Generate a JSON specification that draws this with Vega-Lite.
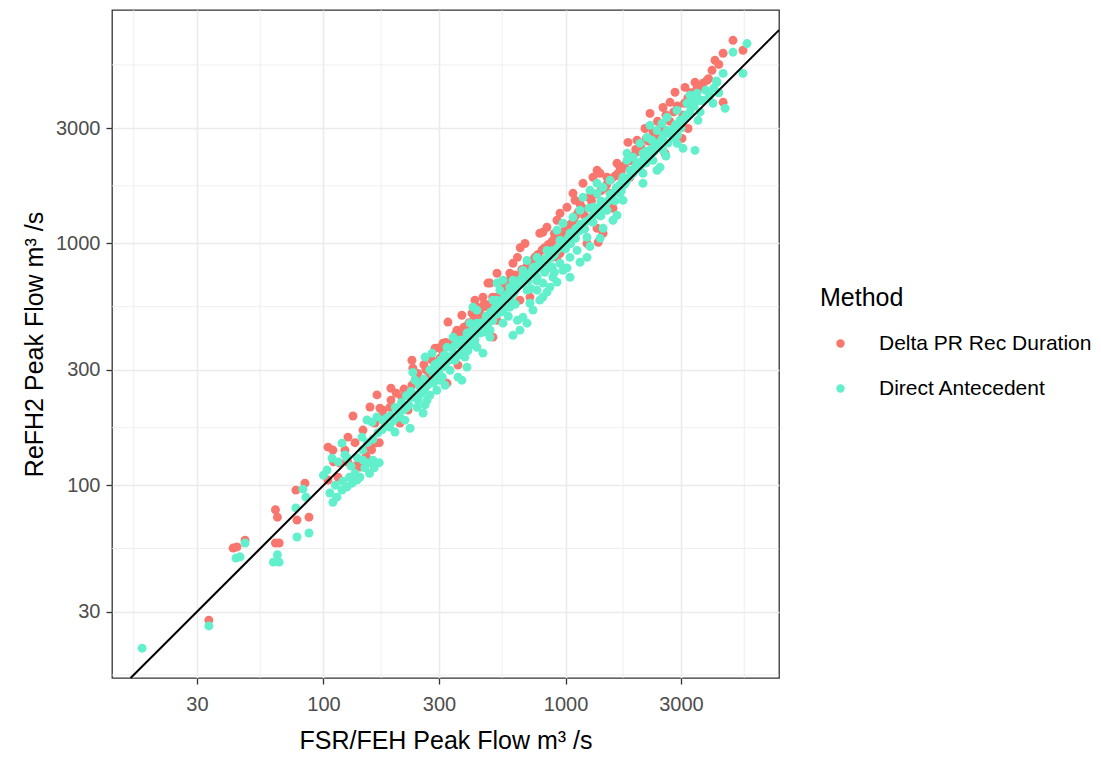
{
  "$schema": "https://vega.github.io/schema/vega-lite/v6.json",
  "width": 667,
  "height": 668,
  "autosize": {"type": "none"},
  "padding": {"left": 112, "top": 10, "right": 322, "bottom": 80},
  "background": "white",
  "config": {
    "font": "Liberation Sans",
    "view": {"stroke": "#333333", "strokeWidth": 1.3},
    "axis": {
      "domain": false, "grid": true, "gridColor": "#EBEBEB", "gridWidth": 1.6,
      "tickColor": "#333333", "tickWidth": 1.3, "tickSize": 6,
      "labelFont": "Liberation Sans", "labelFontSize": 20, "labelColor": "#4D4D4D", "labelPadding": 6,
      "titleFont": "Liberation Sans", "titleFontSize": 25, "titleFontWeight": "normal", "titleColor": "#000000"
    },
    "legend": {
      "orient": "none", "legendX": 708, "legendY": 276, "padding": 0,
      "titleFont": "Liberation Sans", "titleFontSize": 25, "titleFontWeight": "normal", "titleColor": "#000000", "titlePadding": 22,
      "labelFont": "Liberation Sans", "labelFontSize": 21, "labelColor": "#000000", "labelLimit": 400,
      "symbolType": "circle", "symbolSize": 70, "symbolStrokeWidth": 0, "symbolOffset": 10, "labelOffset": 28, "rowPadding": 23
    }
  },
  "datasets": {
    "delta": [
      {"x":33.6,"y":27.7},{"x":42.3,"y":55},{"x":43.9,"y":55.6},{"x":47.4,"y":59.3},{"x":63.3,"y":79.2},{"x":64.5,"y":73.8},{"x":63.3,"y":57.7},{"x":65.6,"y":57.7},
      {"x":77.7,"y":71.8},{"x":76.9,"y":95.5},{"x":83.8,"y":102},{"x":87.1,"y":73.8},{"x":104.4,"y":143.8},{"x":109.4,"y":139.8},{"x":104.4,"y":105.1},{"x":114.7,"y":108.1},
      {"x":117,"y":123.5},{"x":126.2,"y":124.6},{"x":122.6,"y":139.8},{"x":126.2,"y":158.2},{"x":132.4,"y":193.4},{"x":137.5,"y":121.2},{"x":141.5,"y":118.9},{"x":155.6,"y":210.7},
      {"x":166.3,"y":236.5},{"x":163.2,"y":180.9},{"x":151.2,"y":143.8},{"x":145.6,"y":169.2},{"x":163.2,"y":149.4},{"x":190,"y":252},{"x":171,"y":208.5},{"x":188,"y":210},
      {"x":211,"y":231},{"x":223.5,"y":204.5},{"x":232,"y":329},{"x":234,"y":305},{"x":232,"y":259},{"x":255,"y":255},{"x":289,"y":369},{"x":303,"y":335.5},
      {"x":311.7,"y":387},{"x":326.8,"y":473},{"x":356,"y":438},{"x":359.5,"y":314},{"x":373,"y":505},{"x":410.7,"y":515},{"x":422.6,"y":583},{"x":456,"y":545},
      {"x":478,"y":686},{"x":521,"y":753},{"x":501.5,"y":410},{"x":323.7,"y":264.5},{"x":176,"y":204.5},{"x":207,"y":181},{"x":258,"y":272},{"x":275.5,"y":285},
      {"x":340,"y":335.5},{"x":435,"y":491},{"x":1350,"y":2007},{"x":1299,"y":1878},{"x":1632,"y":2145},{"x":1527,"y":1612},{"x":1571,"y":1398},{"x":1181,"y":1773},
      {"x":1074,"y":1612},{"x":1014,"y":1411},{"x":949,"y":1333},{"x":922,"y":1247},{"x":838,"y":1167},{"x":806,"y":1112},{"x":1350,"y":1156},{"x":1429,"y":1102},
      {"x":1227,"y":1000},{"x":1365,"y":1012},{"x":862,"y":963},{"x":783,"y":1102},{"x":680,"y":1000},{"x":949,"y":910},{"x":633,"y":876},{"x":606.5,"y":828},
      {"x":589,"y":753},{"x":487.5,"y":686},{"x":713,"y":600},{"x":648,"y":583},{"x":456,"y":600},{"x":430.7,"y":545},{"x":521,"y":481},{"x":487.5,"y":540},
      {"x":922,"y":876},{"x":1095,"y":1509},{"x":1389,"y":1308},{"x":650,"y":960},{"x":4920,"y":6920},{"x":4480,"y":6120},{"x":5410,"y":6290},{"x":4146,"y":5720},
      {"x":4030,"y":5200},{"x":3843,"y":4730},{"x":3428,"y":4640},{"x":3117,"y":4420},{"x":3494,"y":4380},{"x":2835,"y":4220},{"x":2703,"y":3835},{"x":4480,"y":3835},
      {"x":2529,"y":3650},{"x":2234,"y":3450},{"x":3059,"y":3390},{"x":3208,"y":2988},{"x":2130,"y":2988},{"x":3030,"y":2720},{"x":1974,"y":2670},{"x":1812,"y":2619},
      {"x":2577,"y":2359},{"x":1679,"y":2065},{"x":1727,"y":1825},{"x":1847,"y":1878},{"x":1389,"y":1950},{"x":1484,"y":1878},{"x":1527,"y":1411},
      {"x":150,"y":132},{"x":158,"y":140},{"x":170,"y":150},{"x":200,"y":240},{"x":245,"y":290},{"x":265,"y":300},{"x":300,"y":370},{"x":320,"y":390},
      {"x":345,"y":400},{"x":380,"y":450},{"x":400,"y":470},{"x":460,"y":560},{"x":500,"y":600},{"x":560,"y":690},{"x":600,"y":720},{"x":560,"y":650},
      {"x":700,"y":820},{"x":750,"y":880},{"x":820,"y":960},{"x":880,"y":1020},{"x":1000,"y":1150},{"x":1050,"y":1200},{"x":950,"y":1060},{"x":900,"y":1100},
      {"x":1150,"y":1450},{"x":1250,"y":1550},{"x":1450,"y":1700},{"x":1600,"y":1900},{"x":1700,"y":2000},{"x":1900,"y":2300},{"x":1950,"y":2450},{"x":1200,"y":1300},
      {"x":1100,"y":1300},{"x":2300,"y":2900},{"x":2400,"y":3200},{"x":2600,"y":3400},{"x":2900,"y":3700},{"x":3300,"y":4200},{"x":3700,"y":4600},{"x":4300,"y":5500},
      {"x":2000,"y":2400},{"x":2200,"y":2650},
      {"x":110,"y":125},{"x":135,"y":150},{"x":175,"y":195},{"x":190,"y":225},{"x":215,"y":250},{"x":240,"y":275},{"x":260,"y":315},{"x":280,"y":330},
      {"x":310,"y":360},{"x":330,"y":380},{"x":350,"y":420},{"x":370,"y":430},{"x":390,"y":455},{"x":420,"y":490},{"x":440,"y":520},{"x":480,"y":560},
      {"x":520,"y":600},{"x":540,"y":640},{"x":580,"y":700},{"x":620,"y":740},{"x":660,"y":780},{"x":690,"y":800},{"x":730,"y":850},{"x":770,"y":900},
      {"x":800,"y":940},{"x":850,"y":990},{"x":900,"y":1050},{"x":970,"y":1100},{"x":1020,"y":1180},{"x":1080,"y":1250},{"x":1130,"y":1350},{"x":1180,"y":1400},
      {"x":1280,"y":1500},{"x":1330,"y":1600},{"x":1400,"y":1650},{"x":1480,"y":1750},{"x":1550,"y":1850},{"x":1650,"y":1950},{"x":1750,"y":2100},{"x":1850,"y":2200},
      {"x":2050,"y":2500},{"x":2150,"y":2700},{"x":2350,"y":2800},{"x":2500,"y":3000},{"x":2700,"y":3200},{"x":2800,"y":3500},{"x":3100,"y":3800},{"x":3200,"y":4000},
      {"x":3600,"y":4400},{"x":3900,"y":4800}
    ],
    "direct": [
      {"x":17.8,"y":21.2},{"x":33.6,"y":26.2},{"x":47.4,"y":57.7},{"x":43.5,"y":50},{"x":45.2,"y":50.6},{"x":62.1,"y":48.1},{"x":64.5,"y":51.6},{"x":65.6,"y":48.1},
      {"x":77.7,"y":61.1},{"x":76.9,"y":80.6},{"x":82.2,"y":96.4},{"x":84.6,"y":89.3},{"x":87.1,"y":63.5},{"x":108.4,"y":129.4},{"x":103.4,"y":115.6},{"x":106.3,"y":92.9},
      {"x":109.4,"y":85},{"x":113.6,"y":89.3},{"x":119.2,"y":95.5},{"x":125,"y":98.3},{"x":131.2,"y":102},{"x":137.5,"y":105.1},{"x":141.5,"y":108.1},{"x":119.2,"y":149.4},
      {"x":122.6,"y":133.6},{"x":145.6,"y":127.1},{"x":151.2,"y":123.5},{"x":158.6,"y":123.5},{"x":160.1,"y":127.1},{"x":151.2,"y":186.2},{"x":158.6,"y":182.6},{"x":166.3,"y":191.6},
      {"x":144.2,"y":158.2},{"x":221,"y":210},{"x":207,"y":191},{"x":232,"y":231},{"x":243.5,"y":210},{"x":258,"y":199},{"x":268,"y":225},{"x":250.5,"y":255},
      {"x":234,"y":293},{"x":239,"y":272},{"x":263,"y":339},{"x":281,"y":352},{"x":283.5,"y":290.5},{"x":303,"y":272},{"x":311.7,"y":308},{"x":294,"y":247},
      {"x":323.7,"y":372},{"x":343,"y":410},{"x":366,"y":398},{"x":359.5,"y":280},{"x":373,"y":272},{"x":391.6,"y":308},{"x":377,"y":362},{"x":391.6,"y":426},
      {"x":403,"y":468},{"x":430.7,"y":372},{"x":443,"y":426},{"x":456,"y":352},{"x":414.6,"y":545},{"x":474,"y":495},{"x":521,"y":686},{"x":501.5,"y":583},
      {"x":487.5,"y":410},{"x":176,"y":186},{"x":188,"y":174},{"x":197.5,"y":166},{"x":217,"y":186},{"x":228,"y":172},{"x":246,"y":225},{"x":263,"y":215},
      {"x":275.5,"y":236},{"x":294,"y":277},{"x":318,"y":259},{"x":333.5,"y":299},{"x":349,"y":329},{"x":384,"y":339},{"x":403,"y":380},{"x":422.6,"y":398},
      {"x":414.6,"y":438},{"x":465,"y":460},{"x":487.5,"y":491},{"x":1350,"y":1773},{"x":1527,"y":1825},{"x":1727,"y":1878},{"x":1795,"y":2359},{"x":1679,"y":1612},
      {"x":1571,"y":1247},{"x":1727,"y":1509},{"x":1181,"y":1552},{"x":1262,"y":1659},{"x":1148,"y":1372},{"x":1074,"y":1283},{"x":976,"y":1212},{"x":922,"y":1134},
      {"x":1044,"y":1102},{"x":1148,"y":1134},{"x":1227,"y":1061},{"x":1389,"y":1051},{"x":1116,"y":936},{"x":1227,"y":876},{"x":1044,"y":876},{"x":949,"y":1031},
      {"x":887,"y":936},{"x":838,"y":936},{"x":762,"y":876},{"x":806,"y":828},{"x":949,"y":828},{"x":976,"y":774},{"x":887,"y":725},{"x":862,"y":796},
      {"x":693,"y":851},{"x":734,"y":796},{"x":667,"y":774},{"x":606.5,"y":705},{"x":589,"y":660},{"x":536,"y":641},{"x":551.5,"y":705},{"x":762,"y":725},
      {"x":806,"y":686},{"x":862,"y":660},{"x":762,"y":641},{"x":806,"y":600},{"x":693,"y":641},{"x":713,"y":566},{"x":589,"y":545},{"x":551.5,"y":530},
      {"x":521,"y":583},{"x":430.7,"y":530},{"x":430.7,"y":468},{"x":487.5,"y":438},{"x":551.5,"y":468},{"x":633,"y":481},{"x":667,"y":495},{"x":693,"y":468},
      {"x":1044,"y":725},{"x":1148,"y":836},{"x":648,"y":438},{"x":606.5,"y":417},{"x":783,"y":583},{"x":734,"y":530},{"x":838,"y":629},{"x":922,"y":692},
      {"x":1014,"y":792},{"x":1262,"y":972},{"x":1429,"y":1156},{"x":1299,"y":1224},{"x":1484,"y":1372},{"x":1632,"y":1308},{"x":4920,"y":6180},{"x":5622,"y":6710},
      {"x":5410,"y":5050},{"x":4480,"y":5050},{"x":4226,"y":4640},{"x":3268,"y":4100},{"x":3494,"y":4180},{"x":3177,"y":3800},{"x":3363,"y":3910},{"x":3700,"y":3910},
      {"x":3953,"y":4100},{"x":4566,"y":3620},{"x":4068,"y":3800},{"x":2889,"y":3550},{"x":2627,"y":3325},{"x":2505,"y":3140},{"x":2972,"y":3230},{"x":3268,"y":3450},
      {"x":3527,"y":3230},{"x":2234,"y":3080},{"x":2388,"y":2930},{"x":2627,"y":2930},{"x":2780,"y":2745},{"x":2889,"y":2594},{"x":3059,"y":2474},{"x":2031,"y":2594},
      {"x":2171,"y":2745},{"x":2277,"y":2670},{"x":2388,"y":2497},{"x":2529,"y":2427},{"x":2090,"y":2359},{"x":1900,"y":2271},{"x":1795,"y":2207},{"x":1847,"y":2007},
      {"x":2031,"y":2065},{"x":2298,"y":2207},{"x":2388,"y":2007},{"x":2457,"y":2065},{"x":2090,"y":1950},{"x":2090,"y":1773},{"x":1429,"y":1707},{"x":1632,"y":1659},
      {"x":1350,"y":1612},{"x":1299,"y":1411},{"x":3428,"y":2427},
      {"x":112,"y":100},{"x":128,"y":108},{"x":135,"y":112},{"x":148,"y":118},{"x":155,"y":112},{"x":162,"y":118},{"x":170,"y":124},{"x":120,"y":104},
      {"x":180,"y":178},{"x":195,"y":185},{"x":205,"y":200},{"x":215,"y":205},{"x":225,"y":215},{"x":240,"y":235},{"x":255,"y":240},{"x":262,"y":250},
      {"x":270,"y":260},{"x":285,"y":265},{"x":300,"y":290},{"x":310,"y":280},{"x":290,"y":300},{"x":320,"y":320},{"x":335,"y":330},{"x":345,"y":350},
      {"x":360,"y":345},{"x":375,"y":375},{"x":395,"y":360},{"x":410,"y":390},{"x":420,"y":420},{"x":440,"y":440},{"x":460,"y":430},{"x":480,"y":470},
      {"x":500,"y":480},{"x":520,"y":510},{"x":540,"y":520},{"x":560,"y":540},{"x":560,"y":600},{"x":580,"y":620},{"x":620,"y":640},{"x":640,"y":700},
      {"x":660,"y":720},{"x":700,"y":700},{"x":720,"y":760},{"x":750,"y":800},{"x":780,"y":820},{"x":820,"y":860},{"x":850,"y":880},{"x":900,"y":900},
      {"x":930,"y":960},{"x":960,"y":980},{"x":1000,"y":1000},{"x":1000,"y":950},{"x":880,"y":800},{"x":720,"y":650},{"x":620,"y":560},{"x":580,"y":500},
      {"x":900,"y":760},{"x":1050,"y":1000},{"x":1100,"y":1050},{"x":1150,"y":1200},{"x":1200,"y":1150},{"x":1250,"y":1250},{"x":1300,"y":1300},{"x":1350,"y":1350},
      {"x":1400,"y":1300},{"x":1450,"y":1450},{"x":1500,"y":1500},{"x":1550,"y":1550},{"x":1600,"y":1500},{"x":1650,"y":1700},{"x":1700,"y":1650},{"x":1750,"y":1750},
      {"x":1800,"y":1850},{"x":1900,"y":1950},{"x":1950,"y":2100},{"x":1250,"y":1400},{"x":1100,"y":1150},{"x":1400,"y":1500},{"x":2200,"y":2300},{"x":2350,"y":2600},
      {"x":2500,"y":2700},{"x":2650,"y":2600},{"x":2800,"y":3000},{"x":3000,"y":3000},{"x":3100,"y":3300},{"x":3300,"y":3600},{"x":3600,"y":3500},{"x":3800,"y":4300},
      {"x":4100,"y":4400},{"x":4300,"y":4200},{"x":2150,"y":2150},{"x":2600,"y":2300},{"x":2900,"y":2800},
      {"x":100,"y":110},{"x":115,"y":125},{"x":125,"y":130},{"x":130,"y":120},{"x":138,"y":130},{"x":145,"y":140},{"x":152,"y":150},{"x":160,"y":155},
      {"x":168,"y":165},{"x":175,"y":170},{"x":182,"y":190},{"x":190,"y":195},{"x":198,"y":210},{"x":210,"y":220},{"x":220,"y":235},{"x":230,"y":245},
      {"x":248,"y":260},{"x":260,"y":275},{"x":275,"y":300},{"x":288,"y":315},{"x":295,"y":320},{"x":305,"y":330},{"x":315,"y":345},{"x":325,"y":340},
      {"x":340,"y":370},{"x":350,"y":380},{"x":365,"y":390},{"x":380,"y":400},{"x":390,"y":410},{"x":405,"y":430},{"x":430,"y":450},{"x":450,"y":470},
      {"x":470,"y":500},{"x":490,"y":520},{"x":510,"y":540},{"x":530,"y":560},{"x":550,"y":580},{"x":570,"y":600},{"x":590,"y":610},{"x":610,"y":620},
      {"x":630,"y":660},{"x":650,"y":680},{"x":670,"y":690},{"x":690,"y":720},{"x":710,"y":740},{"x":730,"y":760},{"x":760,"y":780},{"x":790,"y":800},
      {"x":810,"y":830},{"x":840,"y":850},{"x":870,"y":870},{"x":890,"y":920},{"x":920,"y":940},{"x":950,"y":960},{"x":980,"y":1000},{"x":1010,"y":1030},
      {"x":1030,"y":1060},{"x":760,"y":700},{"x":820,"y":760},{"x":600,"y":580},{"x":1070,"y":1060},{"x":1120,"y":1120},{"x":1170,"y":1180},{"x":1210,"y":1230},
      {"x":1280,"y":1280},{"x":1330,"y":1380},{"x":1380,"y":1420},{"x":1430,"y":1400},{"x":1480,"y":1480},{"x":1530,"y":1600},{"x":1580,"y":1620},{"x":1620,"y":1700},
      {"x":1680,"y":1750},{"x":1720,"y":1800},{"x":1780,"y":1800},{"x":1850,"y":1900},{"x":1920,"y":2000},{"x":2000,"y":2150},{"x":2080,"y":2200},{"x":2150,"y":2400},
      {"x":2250,"y":2450},{"x":2320,"y":2400},{"x":2420,"y":2600},{"x":2550,"y":2800},{"x":2700,"y":2850},{"x":2850,"y":3100},{"x":3000,"y":3200},{"x":3150,"y":3400},
      {"x":3400,"y":3700},{"x":3600,"y":3900},{"x":3900,"y":4000},{"x":4200,"y":4700}
    ],
    "minor": [{"v":16.43},{"v":54.77},{"v":173.2},{"v":547.7},{"v":1732},{"v":5477}]
  },
  "layer": [
    {
      "data": {"name": "minor"},
      "mark": {"type": "rule", "color": "#EBEBEB", "strokeWidth": 0.8},
      "encoding": {
        "x": {"field": "v", "type": "quantitative",
              "scale": {"type": "log", "domain": [13.37, 7623], "nice": false, "zero": false},
              "axis": {"values": [30, 100, 300, 1000, 3000], "format": "d", "title": "FSR/FEH Peak Flow m³ /s", "titleX": 333.5, "titleY": 70, "titleAlign": "center", "titleBaseline": "alphabetic", "labelPadding": 10}}
      }
    },
    {
      "data": {"name": "minor"},
      "mark": {"type": "rule", "color": "#EBEBEB", "strokeWidth": 0.8},
      "encoding": {
        "y": {"field": "v", "type": "quantitative",
              "scale": {"type": "log", "domain": [15.96, 9236], "nice": false, "zero": false},
              "axis": {"values": [30, 100, 300, 1000, 3000], "format": "d", "title": "ReFH2 Peak Flow m³ /s", "titleX": -70, "titleY": 334, "titleAlign": "center", "titleBaseline": "alphabetic", "titleAngle": 270}}
      }
    },
    {
      "data": {"name": "delta"},
      "mark": {"type": "circle", "size": 80, "opacity": 1},
      "encoding": {
        "x": {"field": "x", "type": "quantitative", "scale": {"type": "log", "domain": [13.37, 7623], "nice": false, "zero": false}},
        "y": {"field": "y", "type": "quantitative", "scale": {"type": "log", "domain": [15.96, 9236], "nice": false, "zero": false}},
        "color": {"datum": "Delta PR Rec Duration", "type": "nominal", "title": "Method",
                  "scale": {"domain": ["Delta PR Rec Duration", "Direct Antecedent"], "range": ["#F8766D", "#62EFCB"]}}
      }
    },
    {
      "data": {"name": "direct"},
      "mark": {"type": "circle", "size": 80, "opacity": 1},
      "encoding": {
        "x": {"field": "x", "type": "quantitative", "scale": {"type": "log", "domain": [13.37, 7623], "nice": false, "zero": false}},
        "y": {"field": "y", "type": "quantitative", "scale": {"type": "log", "domain": [15.96, 9236], "nice": false, "zero": false}},
        "color": {"datum": "Direct Antecedent", "type": "nominal", "title": "Method",
                  "scale": {"domain": ["Delta PR Rec Duration", "Direct Antecedent"], "range": ["#F8766D", "#62EFCB"]}}
      }
    },
    {
      "data": {"values": [{"a": 15.96, "b": 7623}]},
      "mark": {"type": "rule", "color": "#000000", "strokeWidth": 2},
      "encoding": {
        "x": {"field": "a", "type": "quantitative", "scale": {"type": "log", "domain": [13.37, 7623], "nice": false, "zero": false}},
        "y": {"field": "a", "type": "quantitative", "scale": {"type": "log", "domain": [15.96, 9236], "nice": false, "zero": false}},
        "x2": {"field": "b"},
        "y2": {"field": "b"}
      }
    }
  ]
}
